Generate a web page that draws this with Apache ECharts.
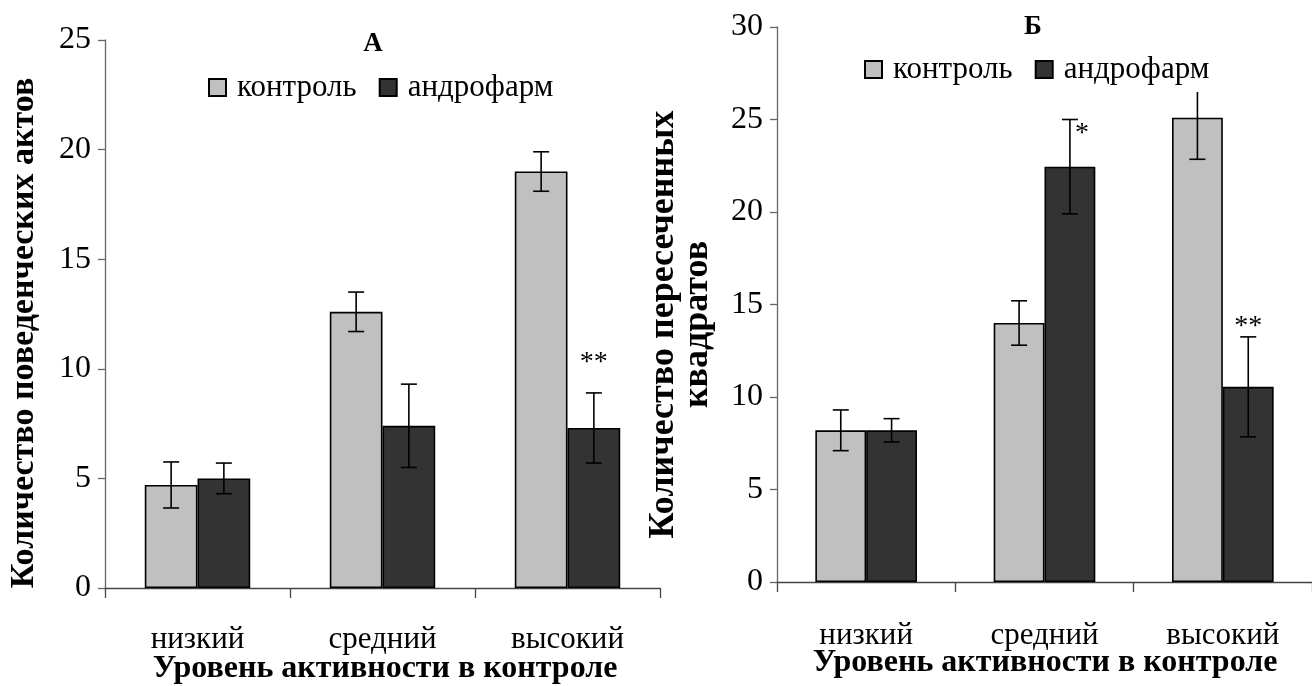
<!DOCTYPE html>
<html><head><meta charset="utf-8">
<script src="https://cdn.jsdelivr.net/npm/echarts@6/dist/echarts.min.js"></script>
<style>html,body{margin:0;padding:0;background:#fff}#c{width:1312px;height:686px}</style>
</head><body><div id="c"></div>
<script>
// ---- data ----
const categories = ['низкий', 'средний', 'высокий'];
const seriesNames = ['контроль', 'андрофарм'];
const panelTitles = ['А', 'Б'];
const xAxisTitle = 'Уровень активности в контроле';
const yTitleA = 'Количество поведенческих актов';
const yTitleB = 'Количество пересеченных\nквадратов';

const aControl = [4.7, 12.6, 19.0];
const aControlErr = [1.05, 0.9, 0.9];
const aDrug = [5.0, 7.4, 7.3];
const aDrugErr = [0.7, 1.9, 1.6];
const aDrugMarks = ['', '', '**'];

const bControl = [8.2, 14.0, 25.1];
const bControlErr = [1.1, 1.2, 2.25];
const bDrug = [8.2, 22.45, 10.55];
const bDrugErr = [0.63, 2.55, 2.7];
const bDrugMarks = ['', '*', '**'];

const aMax = 25, bMax = 30, tickStep = 5;

// ---- style ----
const FONT = "'Liberation Serif','Times New Roman',serif";
const GAP = 0.43;
const COLORS = ['#c0c0c0', '#333333'];

function errData(vals, errs, marks) {
  return vals.map((v, i) => [i, v, errs[i], marks ? marks[i] : '']);
}
function errRender(side, markStyle) {
  return function (params, api) {
    const i = api.value(0), v = api.value(1), e = api.value(2);
    const mark = api.value(3);
    const band = api.size([1, 0])[0];
    const off = side * band * (1 - GAP) / 4;
    const top = api.coord([i, v + e]);
    const bot = api.coord([i, v - e]);
    const x = top[0] + off;
    const cap = 8;
    const st = { stroke: '#000', lineWidth: 1.6 };
    const children = [
      { type: 'line', shape: { x1: x, y1: top[1], x2: x, y2: bot[1] }, style: st },
      { type: 'line', shape: { x1: x - cap, y1: top[1], x2: x + cap, y2: top[1] }, style: st },
      { type: 'line', shape: { x1: x - cap, y1: bot[1], x2: x + cap, y2: bot[1] }, style: st }
    ];
    const m = typeof mark === 'string' ? mark : '';
    if (m) {
      const o = markStyle(m);
      children.push({
        type: 'text', x: x + o[0], y: top[1] + o[1],
        style: { text: m, font: '28px ' + FONT, fill: '#000', align: 'center', verticalAlign: 'middle' }
      });
    }
    return { type: 'group', children: children };
  };
}

const barBase = {
  type: 'bar', barGap: '0%', barCategoryGap: (GAP * 100) + '%',
  itemStyle: { borderColor: '#000', borderWidth: 1.6 }
};

function xAxisFor(gi, labelGap) {
  return {
    type: 'category', gridIndex: gi, data: categories,
    axisLine: { lineStyle: { color: '#444', width: 1.3 } },
    axisTick: { show: true, length: 10, lineStyle: { color: '#444', width: 1.3 } },
    axisLabel: { color: '#000', fontFamily: FONT, fontSize: 31, margin: labelGap }
  };
}
function yAxisFor(gi, max, name, gap, nameStyle) {
  return {
    type: 'value', gridIndex: gi, min: 0, max: max, interval: tickStep,
    splitLine: { show: false },
    axisLine: { show: true, lineStyle: { color: '#666', width: 1.3 } },
    axisTick: { show: true, length: 7, lineStyle: { color: '#666', width: 1.3 } },
    axisLabel: { color: '#000', fontFamily: FONT, fontSize: 32, margin: 14 },
    name: name, nameLocation: 'middle', nameGap: gap,
    nameTextStyle: Object.assign({ color: '#000', fontFamily: FONT, fontWeight: 'bold' }, nameStyle)
  };
}

const legendBase = {
  data: seriesNames, icon: 'rect', itemWidth: 17, itemHeight: 17, itemGap: 22,
  padding: [5, 4, 7, 4], backgroundColor: '#fff', z: 10,
  textStyle: { fontFamily: FONT, fontSize: 31, color: '#000', padding: [0, 0, 0, 6] }
};

function xTitle(cx, cy) {
  return {
    type: 'text', x: cx, y: cy, silent: true,
    style: { text: xAxisTitle, font: 'bold 32px ' + FONT, fill: '#000', align: 'center', verticalAlign: 'middle' }
  };
}

const chart = echarts.init(document.getElementById('c'));
chart.setOption({
  animation: false,
  backgroundColor: '#fff',
  color: COLORS,
  title: [
    { text: panelTitles[0], left: 368, top: 26, textAlign: 'center',
      textStyle: { fontFamily: FONT, fontSize: 27, fontWeight: 'bold', color: '#000' } },
    { text: panelTitles[1], left: 1028, top: 9, textAlign: 'center',
      textStyle: { fontFamily: FONT, fontSize: 27, fontWeight: 'bold', color: '#000' } }
  ],
  legend: [
    Object.assign({}, legendBase, { left: 204, top: 67 }),
    Object.assign({}, legendBase, { left: 860, top: 49 })
  ],
  grid: [
    { left: 105, top: 40, width: 555, height: 548, outerBoundsMode: 'none', containLabel: false },
    { left: 777, top: 27, width: 535, height: 555, outerBoundsMode: 'none', containLabel: false }
  ],
  graphic: [xTitle(385, 669), xTitle(1045, 663)],
  xAxis: [xAxisFor(0, 36), xAxisFor(1, 38)],
  yAxis: [
    yAxisFor(0, aMax, yTitleA, 64, { fontSize: 34, padding: [0, 38, 0, 0] }),
    yAxisFor(1, bMax, yTitleB, 62, { fontSize: 36, lineHeight: 34, padding: [0, 40, 0, 0] })
  ],
  series: [
    Object.assign({}, barBase, { name: seriesNames[0], xAxisIndex: 0, yAxisIndex: 0, data: aControl }),
    Object.assign({}, barBase, { name: seriesNames[1], xAxisIndex: 0, yAxisIndex: 0, data: aDrug }),
    Object.assign({}, barBase, { name: seriesNames[0], xAxisIndex: 1, yAxisIndex: 1, data: bControl }),
    Object.assign({}, barBase, { name: seriesNames[1], xAxisIndex: 1, yAxisIndex: 1, data: bDrug }),
    { type: 'custom', xAxisIndex: 0, yAxisIndex: 0, z: 5, data: errData(aControl, aControlErr),
      renderItem: errRender(-1, () => [0, 0]), encode: { x: 0, y: 1 } },
    { type: 'custom', xAxisIndex: 0, yAxisIndex: 0, z: 5, data: errData(aDrug, aDrugErr, aDrugMarks),
      renderItem: errRender(1, () => [0, -30]), encode: { x: 0, y: 1 } },
    { type: 'custom', xAxisIndex: 1, yAxisIndex: 1, z: 5, data: errData(bControl, bControlErr),
      renderItem: errRender(-1, () => [0, 0]), encode: { x: 0, y: 1 } },
    { type: 'custom', xAxisIndex: 1, yAxisIndex: 1, z: 5, data: errData(bDrug, bDrugErr, bDrugMarks),
      renderItem: errRender(1, m => m === '*' ? [12, 14] : [0, -10]), encode: { x: 0, y: 1 } }
  ]
});
</script>
</body></html>
